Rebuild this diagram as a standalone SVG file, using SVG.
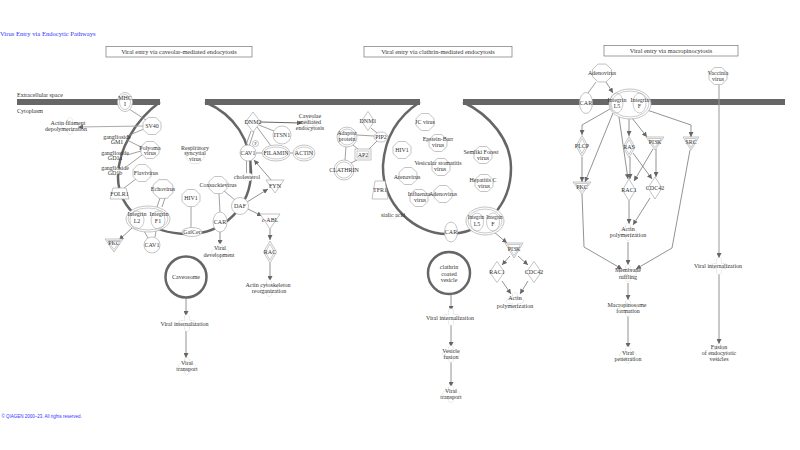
<svg xmlns="http://www.w3.org/2000/svg" xmlns:xlink="http://www.w3.org/1999/xlink" width="800" height="450" viewBox="0 0 800 450">
<style>
.n{fill:#fff;stroke:#aaa;stroke-width:0.7}
.nf{fill:none;stroke:#aaa;stroke-width:0.6}
.ch{fill:#fff;stroke:#e0e0e0;stroke-width:0.5}
.fn{fill:#fff;stroke:#ccc;stroke-width:0.6;stroke-dasharray:1 0.6}
.t{font-family:"Liberation Serif","Times New Roman",serif;font-size:6px;fill:#333;text-anchor:middle}
.ts{font-family:"Liberation Serif","Times New Roman",serif;font-size:5.2px;fill:#333;text-anchor:middle}
.tl{font-family:"Liberation Serif","Times New Roman",serif;font-size:6px;fill:#333}
.hd{font-family:"Liberation Serif","Times New Roman",serif;font-size:6.3px;fill:#333;text-anchor:middle}
.hb{fill:#fff;stroke:#777;stroke-width:0.7}
.e{stroke:#888;stroke-width:0.8;fill:none}
.ea{stroke:#777;stroke-width:0.8;fill:none;marker-end:url(#ah)}
.mem{stroke:#666;stroke-width:6}
.arc{stroke:#666;stroke-width:2.5;fill:none}
</style>
<defs>
<marker id="ah" viewBox="0 0 10 10" refX="10" refY="5" markerWidth="5" markerHeight="5" orient="auto" markerUnits="userSpaceOnUse"><path d="M0,0 L10,5 L0,10 z" fill="#666"/></marker>
<polygon id="oct" points="-3.7,-8.5 3.7,-8.5 9,-3.5 9,3.5 3.7,8.5 -3.7,8.5 -9,3.5 -9,-3.5"/>
<path id="fnp" d="M-2.5,-6 A2.5,2.5 0 0 1 2.5,-6 L2.5,-2.5 L6,-2.5 A2.5,2.5 0 0 1 6,2.5 L2.5,2.5 L2.5,6 A2.5,2.5 0 0 1 -2.5,6 L-2.5,2.5 L-6,2.5 A2.5,2.5 0 0 1 -6,-2.5 L-2.5,-2.5 Z"/>
</defs>
<rect width="800" height="450" fill="#fff"/>

<text x="0" y="35.5" font-family="Liberation Serif, serif" font-size="6.6" fill="#3333ff">Virus Entry via Endocytic Pathways</text>
<text x="1.5" y="417.5" font-family="Liberation Sans, sans-serif" font-size="4.5" fill="#3333ff">© QIAGEN 2000–23. All rights reserved.</text>

<g id="headers">
<rect class="hb" x="106" y="46.5" width="146" height="10.5"/>
<text class="hd" x="179" y="54">Viral entry via caveolar-mediated endocytosis</text>
<rect class="hb" x="364" y="46.5" width="148" height="10.5"/>
<text class="hd" x="438" y="54">Viral entry via clathrin-mediated endocytosis</text>
<rect class="hb" x="604" y="45.5" width="134" height="10.5"/>
<text class="hd" x="671" y="53">Viral entry via macropinocytosis</text>
</g>

<g id="membrane">
<line class="mem" x1="17" y1="102" x2="160" y2="102"/>
<line class="mem" x1="205" y1="102" x2="420" y2="102"/>
<line class="mem" x1="463" y1="102" x2="785" y2="102"/>
<text class="tl" x="17" y="97">Extracellular space</text>
<text class="tl" x="17" y="112.5">Cytoplasm</text>
<path class="arc" d="M160,102 C135,120 118,150 118,177 C118,210 150,234 188,234 C225,234 251,205 251,172 C251,140 235,115 205,102"/>
<path class="arc" d="M420,102 C400,115 385,135 383,165 C382,205 415,234 447,234 C485,234 511,205 511,168 C511,140 490,115 463,102"/>
<circle class="arc" cx="186" cy="277" r="20.5"/>
<circle class="arc" cx="449" cy="273" r="21"/>
</g>

<g id="connectors">
<path class="e" d="M129,109 L146,120"/>
<path d="M143,126 L78,127" stroke="#aaa" stroke-width="1.2" fill="none" marker-end="url(#ah)"/>
<path class="e" d="M144,129 L127,136"/>
<path class="e" d="M141,147 L127,140"/>
<path class="e" d="M141,151 L127,155"/>
<path class="e" d="M142,155 L126,167"/>
<path class="e" d="M136,179 L124,188"/>
<path class="e" d="M160,198 L157,207 M165,198 L162,207"/>
<path class="e" d="M144,231 L148,238 M156,231 L155,237"/>
<path class="ea" d="M132,228 L119,240"/>
<path class="e" d="M191,207 L191,228"/>
<path class="e" d="M219,194 L220,212"/>
<path class="e" d="M224,191 L235,200"/>
<path class="ea" d="M220,232 L220,245"/>
<path class="ea" d="M247,202 L268,189"/>
<path class="ea" d="M248,209 L262,216"/>
<path class="ea" d="M270,229 L270,240"/>
<path class="ea" d="M270,263 L270,281"/>
<path class="ea" d="M272,181 L254,160"/>
<path class="e" d="M246,145 L251,131 M249.5,145 L254,131"/>
<path d="M260,122 L302,123" stroke="#555" stroke-width="0.9" fill="none" marker-end="url(#ah)"/>
<path class="e" d="M259,125 L274,131"/>
<path class="e" d="M257,127 L271,146"/>
<path class="e" d="M256,153 L262,153 M290,153 L293,153"/>
<path class="e" d="M246.5,161 L246.5,173 M249.5,161 L249.5,173"/>
<path class="ea" d="M186,298 L186,316"/>
<path class="ea" d="M186,330 L186,358"/>
<path class="e" d="M371,128 L377,133"/>
<path class="e" d="M357,135 L374,136"/>
<path class="e" d="M353,145 L358,149"/>
<path class="e" d="M346,147 L345,160"/>
<path class="e" d="M377,141 L369,149"/>
<path class="e" d="M351,163 L357,160"/>
<path class="ea" d="M494,232 L507,243"/>
<path class="ea" d="M510,256 L502,265"/>
<path class="ea" d="M518,256 L528,265"/>
<path class="ea" d="M502,281 L511,294"/>
<path class="ea" d="M528,281 L520,294"/>
<path class="ea" d="M451,294 L451,311"/>
<path class="ea" d="M451,324 L451,347"/>
<path class="ea" d="M451,361 L451,387"/>
<path class="e" d="M596,82 L588,93"/>
<path class="ea" d="M606,82 L613,93"/>
<path class="ea" d="M610,109 L582,125 L582,135"/>
<path class="ea" d="M613,113 L585,182"/>
<path class="ea" d="M619,117 L628,179"/>
<path class="ea" d="M629,119 L629,136"/>
<path class="ea" d="M632,118 L647,137"/>
<path class="ea" d="M647,110 L691,125 L691,137"/>
<path class="ea" d="M582,157 L582,182"/>
<path class="ea" d="M630,157 L630,179"/>
<path class="ea" d="M633,153 L652,179"/>
<path class="ea" d="M653,149 L634,181"/>
<path class="ea" d="M656,149 L656,177"/>
<path class="ea" d="M629,201 L629,224"/>
<path class="ea" d="M650,198 L633,225"/>
<path class="ea" d="M582,194 L584,247 L622,269"/>
<path class="ea" d="M628,242 L628,265"/>
<path class="ea" d="M690,150 L672,248 L636,269"/>
<path class="ea" d="M628,283 L628,300"/>
<path class="ea" d="M628,316 L628,348"/>
<path d="M719,85 L719,258" stroke="#999" stroke-width="1" fill="none" marker-end="url(#ah)"/>
<path class="ea" d="M719,273 L719,344"/>
</g>

<g id="MHCI"><ellipse class="n" cx="125" cy="102" rx="7.5" ry="9.5"/><ellipse class="nf" cx="125" cy="102" rx="5.5" ry="7.5"/><text class="t" x="125" y="99.5">MHC</text><text class="t" x="125" y="106">I</text></g>
<g id="SV40"><use href="#oct" class="n" transform="translate(152,126)"/><text class="t" x="152" y="128">SV40</text></g>
<g id="ActinDepol"><use href="#fnp" class="fn" transform="translate(70,126)"/><text class="t" x="68" y="125">Actin filament</text><text class="t" x="66" y="130.5">depolymerization</text></g>
<g id="GM1"><ellipse class="ch" cx="117" cy="140" rx="5" ry="4"/><text class="t" x="117" y="138.5">ganglioside</text><text class="t" x="117" y="144">GM1</text></g>
<g id="Polyoma"><use href="#oct" class="n" transform="translate(150,150)"/><text class="t" x="150" y="149.5">Polyoma</text><text class="t" x="150" y="155">virus</text></g>
<g id="GD1a"><ellipse class="ch" cx="115" cy="156" rx="5" ry="4"/><text class="t" x="115" y="154.5">ganglioside</text><text class="t" x="115" y="160">GD1a</text></g>
<g id="GD1b"><ellipse class="ch" cx="115" cy="171" rx="5" ry="4"/><text class="t" x="115" y="169.5">ganglioside</text><text class="t" x="115" y="175">GD1b</text></g>
<g id="Flavivirus"><use href="#oct" class="n" transform="translate(142,173)"/><text class="t" x="146" y="175">Flavivirus</text></g>
<g id="FOLR1"><polygon class="n" points="113,188 126,188 129,199 110,199"/><text class="t" x="119.5" y="195.5">FOLR1</text></g>
<g id="Echovirus"><use href="#oct" class="n" transform="translate(163,189) scale(1.1)"/><text class="t" x="163" y="190.5">Echovirus</text></g>
<g id="HIV1a"><use href="#oct" class="n" transform="translate(191,198)"/><text class="t" x="191" y="200">HIV1</text></g>
<g id="RSV"><use href="#oct" class="n" transform="translate(195,155)" style="stroke:#ddd"/><text class="t" x="195" y="149.5">Respiratory</text><text class="t" x="195" y="155">syncytial</text><text class="t" x="195" y="161">virus</text></g>
<g id="IntegrinA"><ellipse class="n" cx="148" cy="219" rx="22" ry="13"/><ellipse class="nf" cx="148" cy="219" rx="20" ry="11"/><ellipse class="nf" cx="137" cy="220" rx="7" ry="9"/><ellipse class="nf" cx="158" cy="220" rx="7" ry="9"/><text class="t" x="137" y="215.5">Integrin</text><text class="t" x="159" y="215.5">Integrin</text><text class="t" x="137" y="223">L2</text><text class="t" x="158" y="223">F1</text></g>
<g id="CAV1b"><circle class="n" cx="152" cy="245" r="8"/><text class="t" x="152" y="247">CAV1</text></g>
<g id="PKCa"><polygon class="n" points="105,239 123,239 114,252"/><polygon class="nf" points="107.5,240.5 120.5,240.5 114,249.5"/><text class="t" x="114" y="245">PKC</text></g>
<g id="GalCer"><ellipse class="n" cx="192" cy="232" rx="10" ry="4.5"/><text class="t" x="192" y="234">GalCer</text></g>
<g id="Coxsackievirus"><use href="#oct" class="n" transform="translate(218,185)"/><text class="t" x="218" y="187">Coxsackievirus</text></g>
<g id="CARa"><ellipse class="n" cx="220" cy="222" rx="7" ry="10"/><text class="t" x="220" y="224">CAR</text></g>
<g id="DAF"><circle class="n" cx="240" cy="206" r="8.5"/><text class="t" x="240" y="208">DAF</text></g>
<g id="ViralDev"><use href="#fnp" class="fn" transform="translate(220,252)"/><text class="t" x="220" y="250">Viral</text><text class="t" x="219" y="256.5">development</text></g>
<g id="FYN"><polygon class="n" points="266,180 284,180 275,193"/><text class="t" x="275" y="188">FYN</text></g>
<g id="cABL"><polygon class="n" points="260,214 280,214 270,229"/><text class="t" x="270" y="221.5">c-ABL</text></g>
<g id="RAC"><polygon class="n" points="270,241 276.5,252 270,263 263.5,252"/><polygon class="nf" points="270,244 274.5,252 270,260 265.5,252"/><text class="t" x="270" y="254">RAC</text></g>
<g id="ActinCyto"><use href="#fnp" class="fn" transform="translate(269,288)"/><text class="t" x="268" y="286.5">Actin cytoskeleton</text><text class="t" x="269" y="292.5">reorganization</text></g>
<g id="DNM2"><polygon class="n" points="253,112 260.5,122 253,132 245.5,122"/><text class="t" x="253" y="124">DNM2</text></g>
<g id="CaveolaeEndo"><use href="#fnp" class="fn" transform="translate(310,123)"/><text class="t" x="310" y="118">Caveolae</text><text class="t" x="310" y="124">mediated</text><text class="t" x="310" y="130">endocytosis</text></g>
<g id="ITSN1"><circle class="n" cx="282" cy="135" r="9"/><text class="t" x="282" y="137">ITSN1</text></g>
<g id="CAV1a"><circle class="n" cx="248" cy="153" r="8"/><text class="t" x="248" y="155">CAV1</text><circle class="n" cx="255.5" cy="143.5" r="3"/><text class="t" x="255.5" y="145" style="font-size:4px">P</text></g>
<g id="FILAMIN"><ellipse class="n" cx="276" cy="153" rx="14" ry="8"/><ellipse class="nf" cx="276" cy="153" rx="12" ry="6"/><text class="t" x="276" y="155">FILAMIN</text></g>
<g id="ACTIN"><ellipse class="n" cx="304" cy="153" rx="11" ry="8"/><ellipse class="nf" cx="304" cy="153" rx="9" ry="6"/><text class="t" x="304" y="155">ACTIN</text></g>
<g id="cholesterol"><ellipse class="ch" cx="248" cy="177" rx="5" ry="4"/><text class="t" x="247" y="179">cholesterol</text></g>
<g id="Caveosome"><text class="t" x="186" y="279">Caveosome</text></g>
<g id="ViralIntA"><use href="#fnp" class="fn" transform="translate(187,323)"/><text class="t" x="184.5" y="326">Viral internalization</text></g>
<g id="ViralTransA"><use href="#fnp" class="fn" transform="translate(187,366)"/><text class="t" x="187" y="364.5">Viral</text><text class="t" x="187" y="371">transport</text></g>

<g id="DNM1"><polygon class="n" points="368,111.5 374.5,121 368,130.5 361.5,121"/><text class="t" x="368" y="123">DNM1</text></g>
<g id="Adaptor"><circle class="n" cx="347" cy="137" r="10"/><circle class="nf" cx="347" cy="137" r="8"/><text class="t" x="347" y="135">Adaptor</text><text class="t" x="347" y="141">protein</text></g>
<g id="PIP2"><ellipse class="n" cx="381" cy="137" rx="7" ry="5"/><text class="t" x="381" y="139">PIP2</text></g>
<g id="AP2"><rect class="n" x="355" y="149" width="16" height="11"/><rect class="nf" x="357" y="151" width="12" height="7"/><text class="t" x="363" y="156.5">AP2</text></g>
<g id="CLATHRIN"><circle class="n" cx="344" cy="170" r="10"/><circle class="nf" cx="344" cy="170" r="8"/><text class="t" x="344" y="172">CLATHRIN</text></g>
<g id="TFR1"><polygon class="n" points="375,181 385,181 388,199 372,199"/><text class="t" x="380" y="192">TFR1</text></g>
<g id="sialic"><ellipse class="ch" cx="393" cy="215" rx="5" ry="4"/><text class="t" x="393" y="217">sialic acid</text></g>
<g id="JCvirus"><use href="#oct" class="n" transform="translate(425,122)"/><text class="t" x="425" y="124">JC virus</text></g>
<g id="EBV"><use href="#oct" class="n" transform="translate(438,143)"/><text class="t" x="438" y="141">Epstein-Barr</text><text class="t" x="438" y="146.5">virus</text></g>
<g id="HIV1b"><use href="#oct" class="n" transform="translate(402,150)"/><text class="t" x="402" y="152">HIV1</text></g>
<g id="Semliki"><use href="#oct" class="n" transform="translate(483,155)"/><text class="t" x="481" y="154">Semliki Forest</text><text class="t" x="483" y="159.5">virus</text></g>
<g id="VSV"><use href="#oct" class="n" transform="translate(441,167)"/><text class="t" x="438" y="164.5">Vesicular stomatitis</text><text class="t" x="440" y="170.5">virus</text></g>
<g id="Arenavirus"><use href="#oct" class="n" transform="translate(408,176)"/><text class="t" x="407" y="179">Arenavirus</text></g>
<g id="HepC"><use href="#oct" class="n" transform="translate(484,183)"/><text class="t" x="483" y="182">Hepatitis C</text><text class="t" x="484" y="188">virus</text></g>
<g id="Influenza"><use href="#oct" class="n" transform="translate(419,198)"/><text class="t" x="419" y="196">Influenza</text><text class="t" x="420" y="201.5">virus</text></g>
<g id="AdenovirusA"><use href="#oct" class="n" transform="translate(443,194)"/><text class="t" x="443" y="196">Adenovirus</text></g>
<g id="IntegrinB"><ellipse class="n" cx="485" cy="221" rx="19" ry="14"/><ellipse class="nf" cx="485" cy="221" rx="17" ry="12"/><ellipse class="nf" cx="477" cy="222" rx="6.5" ry="9"/><ellipse class="nf" cx="493" cy="222" rx="6.5" ry="9"/><text class="ts" x="476" y="218.5">Integrin</text><text class="ts" x="494.5" y="218.5">Integrin</text><text class="t" x="477" y="225.5">L5</text><text class="t" x="493" y="225.5">F</text></g>
<g id="CARb"><ellipse class="n" cx="451" cy="232" rx="6.5" ry="10"/><text class="t" x="451" y="234">CAR</text></g>
<g id="PI3Ka"><polygon class="n" points="505,243 523,243 514,258"/><polygon class="nf" points="507.5,244.5 520.5,244.5 514,255.5"/><text class="t" x="514" y="250.5">PI3K</text></g>
<g id="RAC1a"><polygon class="n" points="497,261.5 504.5,272 497,282.5 489.5,272"/><text class="t" x="497" y="274">RAC1</text></g>
<g id="CDC42a"><polygon class="n" points="534,261.5 541.5,272 534,282.5 526.5,272"/><text class="t" x="534" y="274">CDC42</text></g>
<g id="ActinPolyA"><use href="#fnp" class="fn" transform="translate(515,301)"/><text class="t" x="515" y="300">Actin</text><text class="t" x="515" y="307.5">polymerization</text></g>
<g id="CCV"><text class="t" x="449" y="269">clathrin</text><text class="t" x="449" y="275.5">coated</text><text class="t" x="449" y="282">vesicle</text></g>
<g id="ViralIntB"><use href="#fnp" class="fn" transform="translate(451,317)"/><text class="t" x="450" y="319.5">Viral internalization</text></g>
<g id="VesicleFusion"><use href="#fnp" class="fn" transform="translate(451,354)"/><text class="t" x="451" y="352.5">Vesicle</text><text class="t" x="451" y="358.5">fusion</text></g>
<g id="ViralTransB"><use href="#fnp" class="fn" transform="translate(451,394)"/><text class="t" x="451" y="392.5">Viral</text><text class="t" x="451" y="399">transport</text></g>

<g id="AdenovirusB"><use href="#oct" class="n" transform="translate(602,73) scale(1.05)"/><text class="t" x="602" y="75">Adenovirus</text></g>
<g id="CARc"><ellipse class="n" cx="586" cy="103" rx="6.5" ry="10.5"/><text class="t" x="586" y="105">CAR</text></g>
<g id="IntegrinC"><ellipse class="n" cx="630" cy="104" rx="21" ry="15"/><ellipse class="nf" cx="630" cy="104" rx="19" ry="13"/><ellipse class="nf" cx="616.5" cy="103" rx="6.5" ry="10"/><ellipse class="nf" cx="639.5" cy="103" rx="6.5" ry="10"/><text class="t" x="617" y="101.5">Integrin</text><text class="t" x="640" y="101.5">Integrin</text><text class="t" x="617" y="107.5">L5</text><text class="t" x="639.5" y="107.5">F</text></g>
<g id="Vaccinia"><use href="#oct" class="n" transform="translate(718,76)"/><text class="t" x="718" y="74.5">Vaccinia</text><text class="t" x="718" y="80.5">virus</text></g>
<g id="PLCP"><polygon class="n" points="582,135.5 588,146 582,156.5 576,146"/><polygon class="nf" points="582,138.5 586,146 582,153.5 578,146"/><text class="t" x="582" y="148">PLCP</text></g>
<g id="PKCb"><polygon class="n" points="573,182 591,182 582,194"/><polygon class="nf" points="575.5,183.5 588.5,183.5 582,191.5"/><text class="t" x="582" y="188.5">PKC</text></g>
<g id="RAS"><polygon class="n" points="629,136.5 635,147 629,157.5 623,147"/><polygon class="nf" points="629,139.5 633,147 629,154.5 625,147"/><text class="t" x="629" y="149">RAS</text></g>
<g id="PI3Kb"><polygon class="n" points="646,137 664,137 655,150"/><polygon class="nf" points="648.5,138.5 661.5,138.5 655,147.5"/><text class="t" x="655" y="143.5">PI3K</text></g>
<g id="SRC"><polygon class="n" points="683,137 699,137 691,150"/><polygon class="nf" points="685.5,138.5 696.5,138.5 691,147.5"/><text class="t" x="691" y="144">SRC</text></g>
<g id="RAC1b"><polygon class="n" points="629,179 635.5,190 629,201 622.5,190"/><text class="t" x="629" y="192">RAC1</text></g>
<g id="CDC42b"><polygon class="n" points="655,177 662,188 655,199 648,188"/><text class="t" x="655" y="190">CDC42</text></g>
<g id="ActinPolyB"><use href="#fnp" class="fn" transform="translate(628,232)"/><text class="t" x="628" y="231">Actin</text><text class="t" x="628" y="237">polymerization</text></g>
<g id="Ruffling"><use href="#fnp" class="fn" transform="translate(628,273)"/><text class="t" x="628" y="272">Membrane</text><text class="t" x="628" y="279">ruffling</text></g>
<g id="Macropinosome"><use href="#fnp" class="fn" transform="translate(628,308)"/><text class="t" x="627" y="307">Macropinosome</text><text class="t" x="628" y="313">formation</text></g>
<g id="Penetration"><use href="#fnp" class="fn" transform="translate(628,355)"/><text class="t" x="628" y="354.5">Viral</text><text class="t" x="628" y="361">penetration</text></g>
<g id="ViralIntC"><use href="#fnp" class="fn" transform="translate(719,266)"/><text class="t" x="718" y="268">Viral internalization</text></g>
<g id="Fusion"><use href="#fnp" class="fn" transform="translate(719,352)"/><text class="t" x="719" y="348.5">Fusion</text><text class="t" x="719" y="354.5">of endocytotic</text><text class="t" x="719" y="360.5">vesicles</text></g>
</svg>
